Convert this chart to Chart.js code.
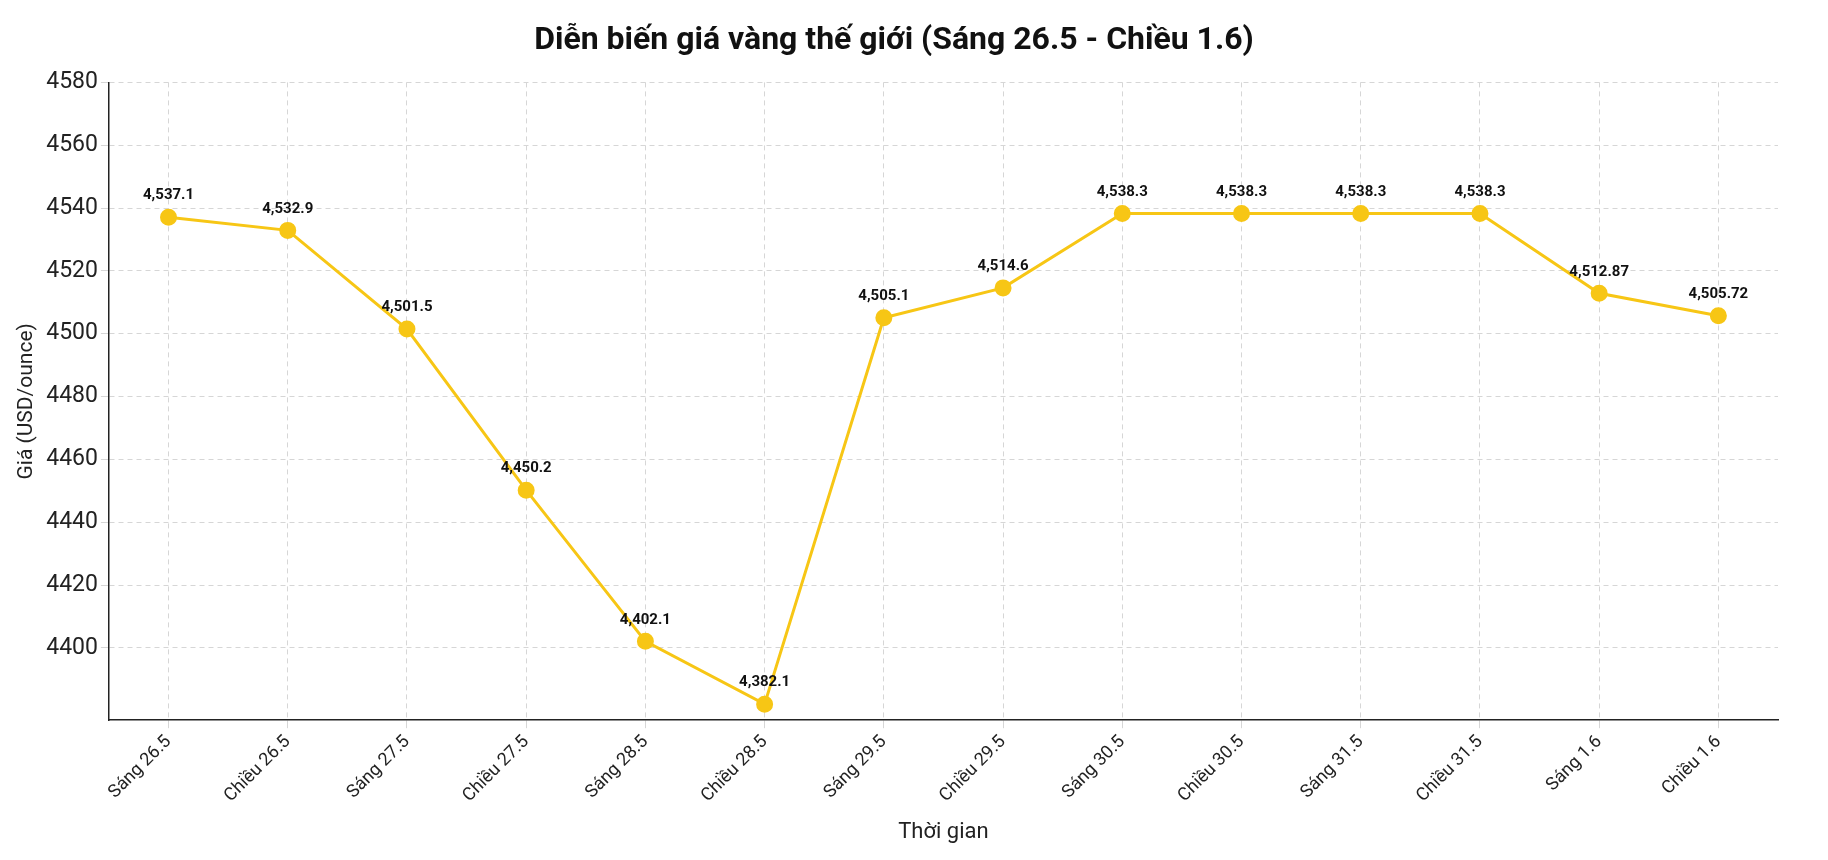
<!DOCTYPE html>
<html>
<head>
<meta charset="utf-8">
<script src="https://cdn.jsdelivr.net/npm/chart.js@4"></script>
<style>
  html, body { margin: 0; padding: 0; background: #fff; }
  #wrap { width: 1828px; height: 860px; }
</style>
</head>
<body>
<div id="wrap"><canvas id="myChart"></canvas></div>
<script>
const categories = ['Sáng 26.5', 'Chiều 26.5', 'Sáng 27.5', 'Chiều 27.5', 'Sáng 28.5', 'Chiều 28.5',
  'Sáng 29.5', 'Chiều 29.5', 'Sáng 30.5', 'Chiều 30.5', 'Sáng 31.5', 'Chiều 31.5', 'Sáng 1.6', 'Chiều 1.6'];
const prices = [4537.1, 4532.9, 4501.5, 4450.2, 4402.1, 4382.1, 4505.1, 4514.6,
  4538.3, 4538.3, 4538.3, 4538.3, 4512.87, 4505.72];
const priceLabels = ['4,537.1', '4,532.9', '4,501.5', '4,450.2', '4,402.1', '4,382.1', '4,505.1', '4,514.6',
  '4,538.3', '4,538.3', '4,538.3', '4,538.3', '4,512.87', '4,505.72'];

const GOLD = '#f7c615';

// draws the value text above each point
const pointLabels = {
  id: 'pointLabels',
  afterDatasetsDraw(chart) {
    const ctx = chart.ctx;
    const meta = chart.getDatasetMeta(0);
    ctx.save();
    ctx.font = 'bold 15px Roboto';
    ctx.fillStyle = '#111';
    ctx.textAlign = 'center';
    ctx.textBaseline = 'bottom';
    meta.data.forEach((pt, i) => {
      ctx.fillText(priceLabels[i], pt.x, pt.y - 14);
    });
    ctx.restore();
  }
};

new Chart(document.getElementById('myChart'), {
  type: 'line',
  data: {
    labels: categories,
    datasets: [{
      data: prices,
      borderColor: GOLD,
      backgroundColor: GOLD,
      borderWidth: 3,
      pointRadius: 7,
      pointHoverRadius: 7,
      tension: 0
    }]
  },
  options: {
    responsive: true,
    maintainAspectRatio: false,
    animation: false,
    layout: { padding: { top: 10, right: 50, left: 10, bottom: 10 } },
    plugins: {
      legend: { display: false },
      tooltip: { enabled: false },
      title: {
        display: true,
        text: 'Diễn biến giá vàng thế giới (Sáng 26.5 - Chiều 1.6)',
        color: '#111',
        font: { family: 'Roboto', size: 32, weight: 'bold' },
        padding: { top: 12, bottom: 22 }
      }
    },
    scales: {
      x: {
        offset: true,
        grid: { color: '#d6d6d6', tickLength: 8 },
        border: { color: '#222', width: 1.5, dash: [5, 4] },
        ticks: { color: '#222', font: { family: 'Roboto', size: 18 }, maxRotation: 45, minRotation: 45 },
        title: { display: true, text: 'Thời gian', color: '#222', font: { family: 'Roboto', size: 22 }, padding: { top: 10 } }
      },
      y: {
        min: 4377,
        max: 4580,
        afterBuildTicks: axis => {
          axis.ticks = axis.ticks.filter(t => t.value % 20 === 0);
        },
        grid: { color: '#d6d6d6', tickLength: 8 },
        border: { color: '#222', width: 1.5, dash: [5, 4] },
        ticks: { stepSize: 20, color: '#222', font: { family: 'Roboto', size: 23 }, callback: v => String(v) },
        title: { display: true, text: 'Giá (USD/ounce)', color: '#222', font: { family: 'Roboto', size: 21 } }
      }
    }
  },
  plugins: [pointLabels]
});
</script>
</body>
</html>
